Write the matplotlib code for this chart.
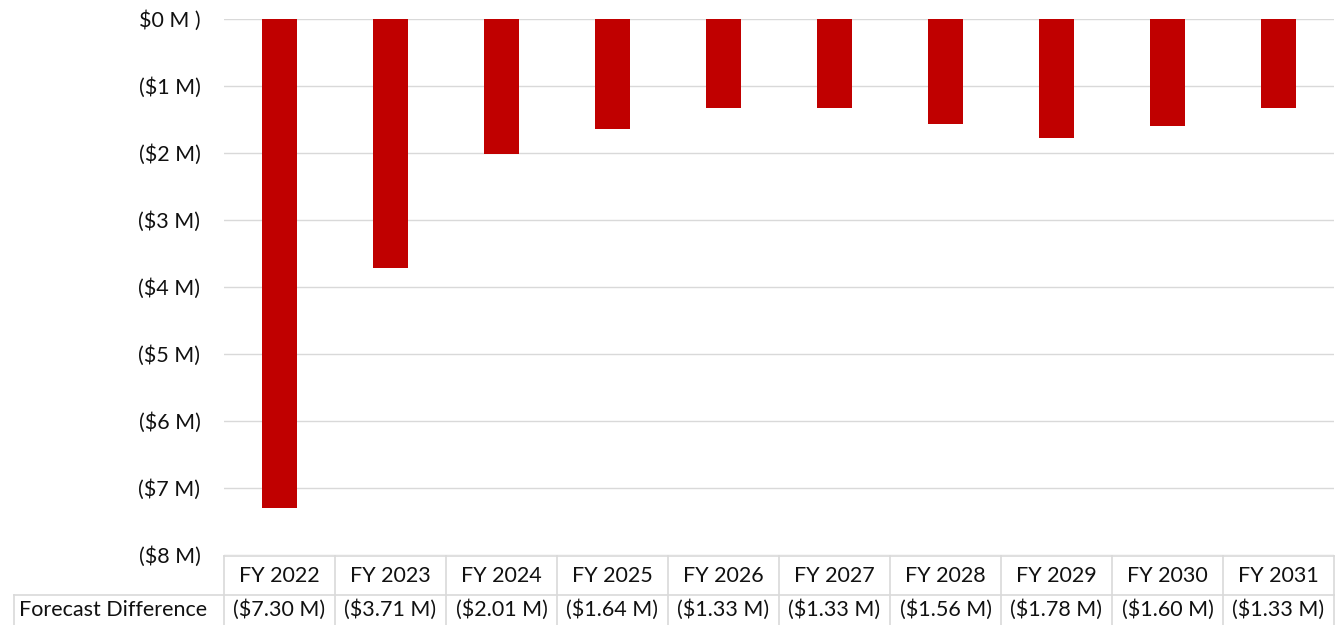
import matplotlib.pyplot as plt
from matplotlib.lines import Line2D

# chart data
years = ["FY 2022", "FY 2023", "FY 2024", "FY 2025", "FY 2026",
         "FY 2027", "FY 2028", "FY 2029", "FY 2030", "FY 2031"]
diff = [-7.30, -3.71, -2.01, -1.64, -1.33, -1.33, -1.56, -1.78, -1.60, -1.33]
diff_labels = ["($7.30 M)", "($3.71 M)", "($2.01 M)", "($1.64 M)", "($1.33 M)",
               "($1.33 M)", "($1.56 M)", "($1.78 M)", "($1.60 M)", "($1.33 M)"]
yticks = [0, -1, -2, -3, -4, -5, -6, -7, -8]
ytick_labels = ["$0 M )", "($1 M)", "($2 M)", "($3 M)", "($4 M)",
                "($5 M)", "($6 M)", "($7 M)", "($8 M)"]
row_name = "Forecast Difference"

plt.rcParams['font.family'] = ['Lato', 'DejaVu Sans']
W, H = 1340, 625
fs = 15.5
tc = "#111111"
fig = plt.figure(figsize=(W / 100, H / 100), dpi=100)

# plot area in pixels
x0, x1 = 224, 1334
y_top, y_bot = 19, 555
ax = fig.add_axes([x0 / W, 1 - y_bot / H, (x1 - x0) / W, (y_bot - y_top) / H])

xs = list(range(len(years)))
ax.bar(xs, diff, width=0.31, color="#C00000", zorder=3)
ax.set_xlim(-0.5, len(years) - 0.5)
ax.set_ylim(-8, 0)
ax.set_yticks(yticks)
ax.set_yticklabels(ytick_labels, fontsize=fs, color=tc)
ax.set_xticks([])
ax.tick_params(axis='y', length=0, pad=17)
ax.grid(axis='y', color="#D9D9D9", linewidth=1, zorder=0)
for s in ax.spines.values():
    s.set_visible(False)

# data table below the plot
def px(x, y):
    return x / W, 1 - y / H

line_c = "#D9D9D9"
r1_top, r1_bot, r2_bot = 556, 595, 625
left_x = 14
col_w = (x1 - x0) / len(years)

def hline(xa, xb, y):
    fig.add_artist(Line2D([xa / W, xb / W], [1 - y / H, 1 - y / H],
                          transform=fig.transFigure, color=line_c, lw=1.2))

def vline(x, ya, yb):
    fig.add_artist(Line2D([x / W, x / W], [1 - ya / H, 1 - yb / H],
                          transform=fig.transFigure, color=line_c, lw=1.2))

hline(x0, x1, r1_top)
hline(left_x, x1, r1_bot)
vline(left_x, r1_bot, r2_bot)
for k in range(len(years) + 1):
    vline(x0 + k * col_w, r1_top, r2_bot)

for k, (yr, lab) in enumerate(zip(years, diff_labels)):
    cx = x0 + (k + 0.5) * col_w
    fig.text(*px(cx, 576), yr, ha='center', va='center', fontsize=fs, color=tc)
    fig.text(*px(cx, 610), lab, ha='center', va='center', fontsize=fs, color=tc)
fig.text(*px(19, 610), row_name, ha='left', va='center', fontsize=fs, color=tc)

fig.savefig("out.png", dpi=100)
